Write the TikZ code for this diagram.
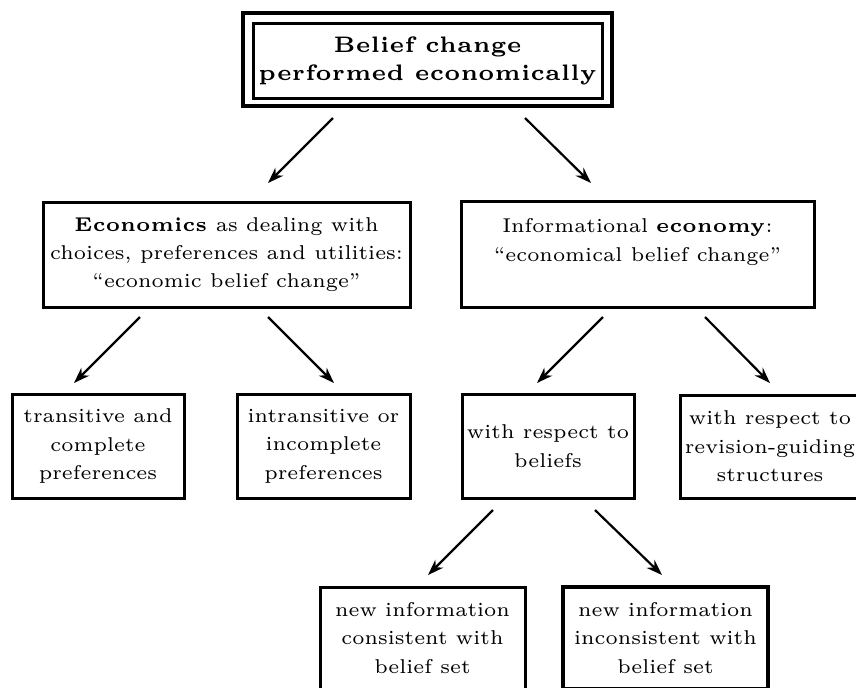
\documentclass[tikz,border=0pt]{standalone}
\usepackage{fontspec}
\setmainfont{lmroman6-regular.otf}[BoldFont=lmroman6-bold.otf, BoldFeatures={LetterSpace=3}]
\usetikzlibrary{arrows.meta}
\begin{document}
\begin{tikzpicture}[x=0.25pt,y=-0.25pt,
  txt/.style={font=\fontsize{5.0}{7.1}\selectfont},
  box/.style={draw, line width=0.75pt, inner sep=0pt, align=center, txt},
  arr/.style={-{Stealth[length=4pt,width=2.8pt]}, line width=0.55pt}]
\useasboundingbox (0,0) rectangle (856,687);
\clip (0,0) rectangle (856,687);
% top double box
\node[box, line width=0.9pt, minimum width=92.25pt, minimum height=23.25pt] (To) at (427.5,59.5) {};
\node[box, font=\fontsize{5.6}{6.9}\selectfont\bfseries, minimum width=87.25pt, minimum height=18.75pt] (Ti) at (427.5,61)
  {Belief change\\ performed economically};
% level 2
\node[box, minimum width=91.75pt, minimum height=26.25pt] (A) at (226.5,254.5)
  {\textbf{Economics} as dealing with\\ choices, preferences and utilities:\\ \textquotedblleft economic belief change\textquotedblright};
\node[box, minimum width=88.25pt, minimum height=26.5pt] (B) at (637.5,254)
  {Informational \textbf{economy}:\\ \textquotedblleft economical belief change\textquotedblright\\ \mbox{}};
% level 3
\node[box, minimum width=43pt, minimum height=26pt] (C1) at (98,446)
  {transitive and\\ complete\\ preferences};
\node[box, minimum width=43.25pt, minimum height=26pt] (C2) at (323.5,446)
  {intransitive or\\ incomplete\\ preferences};
\node[box, minimum width=43pt, minimum height=26pt] (C3) at (548,446)
  {with respect to\\ beliefs};
\node[box, minimum width=45pt, minimum height=25.75pt] (C4) at (770,446.5)
  {with respect to\\ revision-guiding\\ structures};
% level 4
\node[box, minimum width=51.25pt, minimum height=25.5pt] (D1) at (422.5,638)
  {new information\\ consistent with\\ belief set};
\node[box, line width=0.9pt, minimum width=51.25pt, minimum height=25.5pt] (D2) at (665.5,638)
  {new information\\ inconsistent with\\ belief set};
% arrow end points
\coordinate (a1s) at (333,118); \coordinate (a1e) at (268,183);
\coordinate (a2s) at (525,118); \coordinate (a2e) at (591,183);
\coordinate (a3s) at (140,317); \coordinate (a3e) at (74,383);
\coordinate (a4s) at (268,317); \coordinate (a4e) at (334,383);
\coordinate (a5s) at (603,317); \coordinate (a5e) at (537,383);
\coordinate (a6s) at (705,317); \coordinate (a6e) at (770,383);
\coordinate (a7s) at (493,510); \coordinate (a7e) at (428,575);
\coordinate (a8s) at (595,510); \coordinate (a8e) at (662,575);
\foreach \i in {1,...,8} \draw[arr] (a\i s) -- (a\i e);
\end{tikzpicture}
\end{document}
